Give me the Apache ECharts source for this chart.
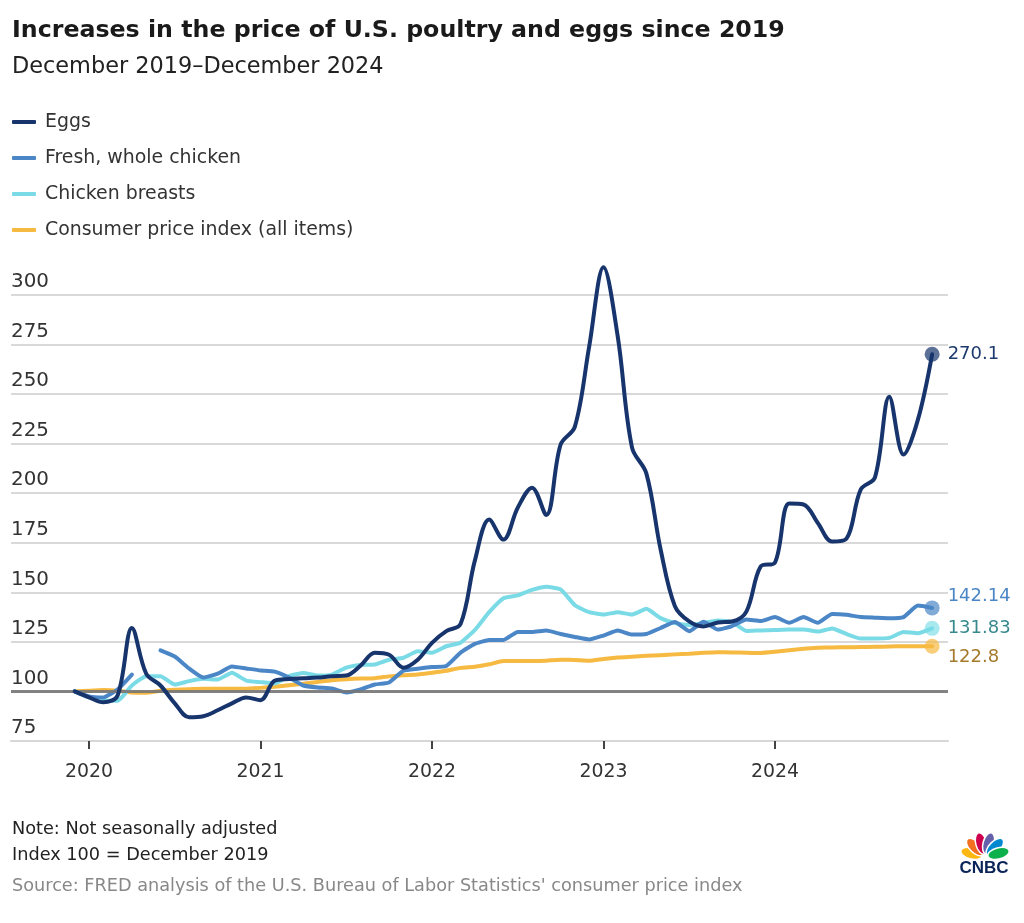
<!DOCTYPE html>
<html>
<head>
<meta charset="utf-8">
<script src="https://cdn.jsdelivr.net/npm/echarts@6/dist/echarts.min.js"></script>
<style>
html,body{margin:0;padding:0;background:#fff;}
#chart{width:1024px;height:923px;}
</style>
</head>
<body>
<div id="chart"></div>
<script>
// Month index: 0 = Dec 2019 ... 60 = Dec 2024
const months = Array.from({length: 61}, (_, i) => i);
const tickMonths = [1, 13, 25, 37, 49];
const tickLabels = ['2020', '2021', '2022', '2023', '2024'];
const yTicks = [75, 100, 125, 150, 175, 200, 225, 250, 275, 300];

const eggs = [100, 97, 94.5, 98, 132, 109, 103, 94, 87, 87.5, 90.5, 94, 97,
  95.6, 105.5, 106.3, 106.6, 107, 107.7, 108, 113, 119.5, 118.5, 112, 116,
  124.5, 130.4, 134, 166, 186.7, 176.6, 192.7, 202.8, 189, 224.5, 233.6, 274,
  314, 279, 223, 210, 171.6, 143, 135.3, 132.8, 134.8, 135.3, 140.3, 163,
  165, 194.8, 194.3, 185, 175.6, 177, 201.8, 208, 248.7, 219.5, 237, 270.1];

const wholeChicken = [100, 97.5, 97, 101, 108.5, null, 120.7, 117.6, 111.6, 107, 109, 112.6, 111.6,
  110.6, 110, 107, 103, 102, 101.5, 99.5, 101, 103.5, 104.5, 110.5, 111.5,
  112.3, 112.8, 119.6, 124, 126, 126, 130, 130, 130.7, 129, 127.5, 126.2,
  128.2, 130.7, 128.7, 129, 132, 135, 130.4, 135.1, 131.2, 133, 136.3, 135.5,
  137.5, 134.6, 137.5, 134.6, 139.1, 138.7, 137.5, 137.2, 136.9, 137.5, 143.3, 142.14];

const breasts = [100, 97, 95.5, 95.3, 103, 107.7, 107.7, 103.5, 105.2, 106.4, 106, 109.4, 105.5,
  104.7, 104, 107.7, 109.3, 108, 108.5, 112, 113.4, 113.6, 116, 117, 120.3,
  119.5, 122.8, 124.6, 131, 140, 147, 148.5, 151.2, 152.8, 151.5, 143.5, 140,
  138.8, 140, 138.8, 141.7, 137, 134.5, 133.5, 134.5, 135.8, 135, 130.5, 130.8,
  131, 131.2, 131.2, 130.2, 131.8, 129, 126.7, 126.7, 127, 130, 129.4, 131.83];

const cpi = [100, 100.4, 100.7, 100.4, 99.5, 99.4, 100.3, 100.8, 101.1, 101.3, 101.3, 101.3, 101.4,
  101.8, 102.4, 103.1, 103.9, 104.8, 105.7, 106.2, 106.5, 106.7, 107.6, 108.2, 108.5,
  109.4, 110.4, 111.9, 112.5, 113.7, 115.3, 115.3, 115.3, 115.5, 116, 115.9, 115.5,
  116.4, 117.1, 117.5, 118, 118.3, 118.7, 119, 119.5, 119.8, 119.7, 119.5, 119.4,
  120, 120.8, 121.5, 122, 122.2, 122.3, 122.4, 122.5, 122.7, 122.8, 122.8, 122.8];

const names = ['Eggs', 'Fresh, whole chicken', 'Chicken breasts', 'Consumer price index (all items)'];
const titleText = 'Increases in the price of U.S. poultry and eggs since 2019';
const subtitleText = 'December 2019\u2013December 2024';
const noteLines = ['Note: Not seasonally adjusted', 'Index 100 = December 2019'];
const sourceText = "Source: FRED analysis of the U.S. Bureau of Labor Statistics' consumer price index";

const colors = ['#17356c', '#4b86c6', '#7adbe6', '#f6b941'];
const dotColors = ['rgba(23,53,108,0.7)', 'rgba(75,134,198,0.7)', 'rgba(122,219,230,0.65)', 'rgba(246,185,65,0.7)'];
const labelColors = ['#1d3a6e', '#4b86c6', '#38898e', '#a57a2b'];
const labelOffsets = [0, -12, 0, 11];

const FONT = 'DejaVu Sans';
// font size that makes a text span a target width (matching the reference layout)
const mctx = document.createElement('canvas').getContext('2d');
function fit(text, weight, target) {
  mctx.font = weight + ' 100px "' + FONT + '"';
  return Math.round(1000 * target / mctx.measureText(text).width) / 10;
}
const fsTitle = fit(titleText, 'bold', 774);
const fsSub = fit(subtitleText, 'normal', 371);
const fsLegend = fit(names[3], 'normal', 308);
const fsNote = fit(sourceText, 'normal', 733);
const fsAxis = fit('300', 'normal', 38);
const fsEnd = 18;

const pair = arr => arr.map((v, i) => [months[i], v]);
const seriesData = [eggs, wholeChicken, breasts, cpi];

const chart = echarts.init(document.getElementById('chart'), null, {renderer: 'canvas'});

function lineSeries(idx, smooth, extra) {
  return Object.assign({
    name: names[idx],
    type: 'line',
    data: pair(seriesData[idx]),
    showSymbol: false,
    smooth: smooth,
    connectNulls: false,
    clip: false,
    lineStyle: {color: colors[idx], width: 4, cap: 'round', join: 'round'},
    itemStyle: {color: colors[idx]},
    emphasis: {disabled: true},
    z: 3
  }, extra || {});
}

const endPoints = [0, 1, 2, 3].map(i => {
  const arr = seriesData[i];
  const v = arr[arr.length - 1];
  return {
    value: [months[months.length - 1], v],
    itemStyle: {color: dotColors[i], opacity: 1},
    label: {
      show: true, position: 'right', distance: 8,
      offset: [0, labelOffsets[i]],
      formatter: String(v),
      color: labelColors[i], opacity: 1, fontSize: fsEnd, fontFamily: FONT
    }
  };
});

const feathers = ['#FCB711', '#F37021', '#CC004C', '#6460AA', '#0089D0', '#0DB14B'];
const featherAngles = [75, 45, 15, -15, -45, -75];
const logo = feathers.map((c, i) => ({
  type: 'ellipse',
  x: 985, y: 857,
  rotation: featherAngles[i] * Math.PI / 180,
  shape: {cx: 0, cy: -14, rx: 5.6, ry: 11},
  style: {fill: c, stroke: '#ffffff', lineWidth: 1.5}
}));

const option = {
  animation: false,
  backgroundColor: '#ffffff',
  textStyle: {fontFamily: FONT},
  grid: {left: 11, right: 76, top: 295, bottom: 182, containLabel: false},
  legend: {
    data: names,
    orient: 'vertical',
    left: 12, top: 110,
    padding: 0,
    icon: 'roundRect',
    itemWidth: 24, itemHeight: 4,
    itemGap: 12,
    selectedMode: false,
    textStyle: {fontSize: fsLegend, color: '#333', fontFamily: FONT, padding: [0, 0, 0, 4], lineHeight: 24}
  },
  xAxis: {
    type: 'value',
    min: -4.46, max: 61.11,
    splitLine: {show: false},
    axisLine: {show: true, lineStyle: {color: '#d7d7d7', width: 2}},
    axisTick: {show: true, customValues: tickMonths, length: 8, lineStyle: {color: '#444', width: 2}},
    axisLabel: {
      customValues: tickMonths,
      formatter: v => tickLabels[tickMonths.indexOf(Math.round(v))] || '',
      margin: 22, fontSize: fsAxis - 1, color: '#333', fontFamily: FONT
    }
  },
  yAxis: {
    type: 'value',
    min: 75, max: 300, interval: 25,
    axisLine: {show: false},
    axisTick: {show: false},
    splitLine: {show: true, lineStyle: {color: '#d9d9d9', width: 2}},
    axisLabel: {
      inside: true, margin: 0, align: 'left', verticalAlign: 'bottom',
      padding: [0, 0, 3, 0],
      fontSize: fsAxis, color: '#333', fontFamily: FONT,
      formatter: v => (yTicks.indexOf(v) >= 0 ? String(v) : '')
    }
  },
  series: [
    lineSeries(3, 0.15, {
      z: 2,
      markLine: {
        silent: true, symbol: ['none', 'none'], label: {show: false},
        lineStyle: {color: '#777777', width: 3, type: 'solid', opacity: 0.9},
        data: [{yAxis: 100}],
        z: 4
      }
    }),
    lineSeries(2, 0.15),
    lineSeries(1, 0.15),
    lineSeries(0, 0.35, {z: 5}),
    {
      name: 'end', type: 'scatter', symbol: 'circle', symbolSize: 15,
      data: endPoints, z: 6, clip: false, emphasis: {disabled: true}
    }
  ],
  graphic: [
    {type: 'text', x: 12, y: 31, style: {text: titleText, fontSize: fsTitle, fontWeight: 'bold', fill: '#1a1a1a', fontFamily: FONT, verticalAlign: 'middle'}},
    {type: 'text', x: 12, y: 67, style: {text: subtitleText, fontSize: fsSub, fill: '#222', fontFamily: FONT, verticalAlign: 'middle'}},
    {type: 'text', x: 12, y: 829, style: {text: noteLines[0], fontSize: fsNote, fill: '#222', fontFamily: FONT, verticalAlign: 'middle'}},
    {type: 'text', x: 12, y: 855, style: {text: noteLines[1], fontSize: fsNote, fill: '#222', fontFamily: FONT, verticalAlign: 'middle'}},
    {type: 'text', x: 12, y: 886, style: {text: sourceText, fontSize: fsNote, fill: '#888', fontFamily: FONT, verticalAlign: 'middle'}},
    {type: 'group', children: logo},
    {type: 'text', x: 984, y: 868, style: {text: 'CNBC', fontSize: 17, fontWeight: 'bold', fill: '#0a2458', fontFamily: 'Liberation Sans', align: 'center', verticalAlign: 'middle'}}
  ]
};

chart.setOption(option);
</script>
</body>
</html>
